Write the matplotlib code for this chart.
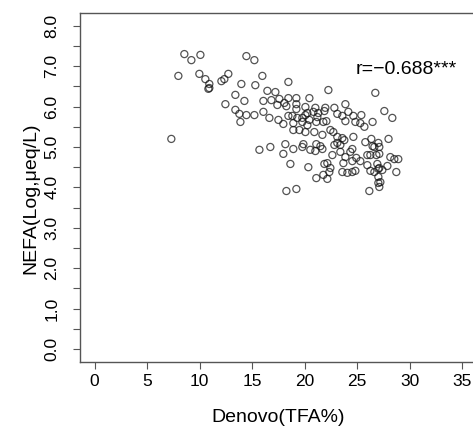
import matplotlib
matplotlib.use("Agg")
import matplotlib.pyplot as plt
import numpy as np

# Denovo (TFA%) vs NEFA (Log, ueq/L)
denovo = [
    8.54, 9.21, 10.07, 7.97, 9.97, 10.54, 10.92, 10.83, 10.92, 12.07, 12.35, 12.73, 12.45, 7.30,
    14.45, 15.21, 15.97, 13.97, 15.30, 18.45, 13.40, 14.26, 16.45, 17.21, 16.07, 16.83, 17.59,
    18.45, 18.07, 17.40, 18.26, 13.40, 13.78, 14.45, 15.21, 13.88, 16.07, 16.64, 17.50, 17.97, 18.45,
    15.69, 16.73, 18.16, 17.97, 18.64, 18.26,
    19.21, 20.45, 19.21, 19.21, 20.07, 21.02, 18.83, 19.30, 19.78, 20.26, 20.83, 21.30, 21.88, 20.07,
    20.45, 21.21, 19.78, 18.92, 21.11, 21.78, 22.07, 20.26, 18.92, 19.50, 20.07, 20.92, 22.26, 21.97,
    26.73, 22.83, 23.88, 23.11, 23.59, 24.16, 24.64, 25.40, 23.88, 24.83, 25.30, 25.69, 26.47, 27.59, 28.35,
    21.69, 22.73, 23.11, 23.59, 23.11, 23.40, 22.83, 23.78, 24.64, 22.45,
    18.92, 19.78, 19.88, 20.54, 21.02, 21.11, 21.69, 21.50,
    20.35, 21.11, 21.78, 22.16, 21.88, 22.16, 22.35, 22.45,
    22.64, 23.40, 24.35, 24.54, 23.88, 24.54, 24.92, 25.30, 25.97, 26.26, 26.83, 27.11,
    25.78, 26.35, 26.47, 26.64, 27.02, 27.11, 27.99,
    23.69, 23.59, 24.07, 24.54, 24.83, 25.97, 26.26, 26.64, 27.02, 26.92, 27.11, 27.40, 27.88, 28.16,
    28.54, 28.92, 28.73, 27.02, 27.21, 27.11, 27.02,
    19.21, 26.16,
]
nefa = [
    7.30, 7.15, 7.28, 6.76, 6.81, 6.68, 6.56, 6.44, 6.46, 6.63, 6.68, 6.81, 6.06, 5.20,
    7.25, 7.15, 6.76, 6.56, 6.53, 6.61, 6.29, 6.14, 6.39, 6.36, 6.14, 6.16, 6.19,
    6.21, 6.09, 6.04, 6.01, 5.92, 5.82, 5.79, 5.79, 5.62, 5.87, 5.72, 5.67, 5.57, 5.77,
    4.93, 5.00, 5.07, 4.83, 4.58, 3.91,
    6.21, 6.21, 6.06, 5.94, 5.99, 5.97, 5.77, 5.72, 5.72, 5.84, 5.87, 5.84, 5.89, 5.79,
    5.67, 5.74, 5.62, 5.59, 5.62, 5.62, 5.64, 5.54, 5.42, 5.42, 5.37, 5.37, 6.41, 5.97,
    6.34, 5.97, 6.06, 5.82, 5.77, 5.87, 5.77, 5.79, 5.64, 5.62, 5.59, 5.50, 5.62, 5.89, 5.72,
    5.30, 5.37, 5.25, 5.22, 5.10, 5.05, 5.05, 5.17, 5.25, 5.42,
    4.95, 5.00, 5.07, 4.93, 4.90, 5.07, 4.95, 5.02,
    4.50, 4.23, 4.31, 4.21, 4.58, 4.60, 4.38, 4.48,
    4.80, 4.88, 4.88, 4.95, 4.75, 4.65, 4.73, 4.65, 4.80, 4.80, 4.80, 4.83,
    5.12, 5.20, 5.02, 5.00, 5.10, 5.00, 5.20,
    4.60, 4.38, 4.36, 4.38, 4.41, 4.55, 4.41, 4.38, 4.46, 4.58, 4.48, 4.43, 4.53, 4.75,
    4.70, 4.70, 4.38, 4.26, 4.13, 4.01, 4.11,
    3.96, 3.91,
]
r_label = "r=\u22120.688***"
x_ticks = [0, 5, 10, 15, 20, 25, 30, 35]
y_ticks = np.arange(0, 8.01, 0.5)

plt.rcParams['font.family'] = ['Liberation Sans', 'DejaVu Sans']
grey = '#555555'

fig = plt.figure(figsize=(4.73, 4.28), dpi=100)
ax = fig.add_axes([0.1691, 0.1545, 0.839, 0.8154])

ax.scatter(denovo, nefa, s=26, facecolors='none', edgecolors='#111111',
           linewidths=0.9, alpha=0.72)

ax.set_xlim(-1.4, 36.4)
ax.set_ylim(-0.32, 8.32)
ax.set_xticks(x_ticks)
ax.set_yticks(y_ticks)
ax.set_yticklabels(["%.1f" % v if v == int(v) else "" for v in y_ticks],
                   rotation=90, va='center')

for s in ax.spines.values():
    s.set_color(grey)
    s.set_linewidth(1.0)
ax.tick_params(axis='both', direction='out', length=5, width=0.8,
               color=grey, labelsize=12.5, labelcolor='black')
ax.tick_params(axis='x', pad=3.5)
ax.tick_params(axis='y', pad=10)

ax.text(24.83, 6.93, r_label, ha='left', va='center', fontsize=14)

ax.set_xlabel("Denovo(TFA%)", fontsize=14)
ax.set_ylabel("NEFA(Log,\u03bceq/L)", fontsize=14)
ax.xaxis.label.set_va('center')
ax.yaxis.label.set_va('center')
ax.xaxis.set_label_coords(0.5, -0.158)
ax.yaxis.set_label_coords(-0.1235, 0.47)

fig.savefig("out.png", dpi=100)
